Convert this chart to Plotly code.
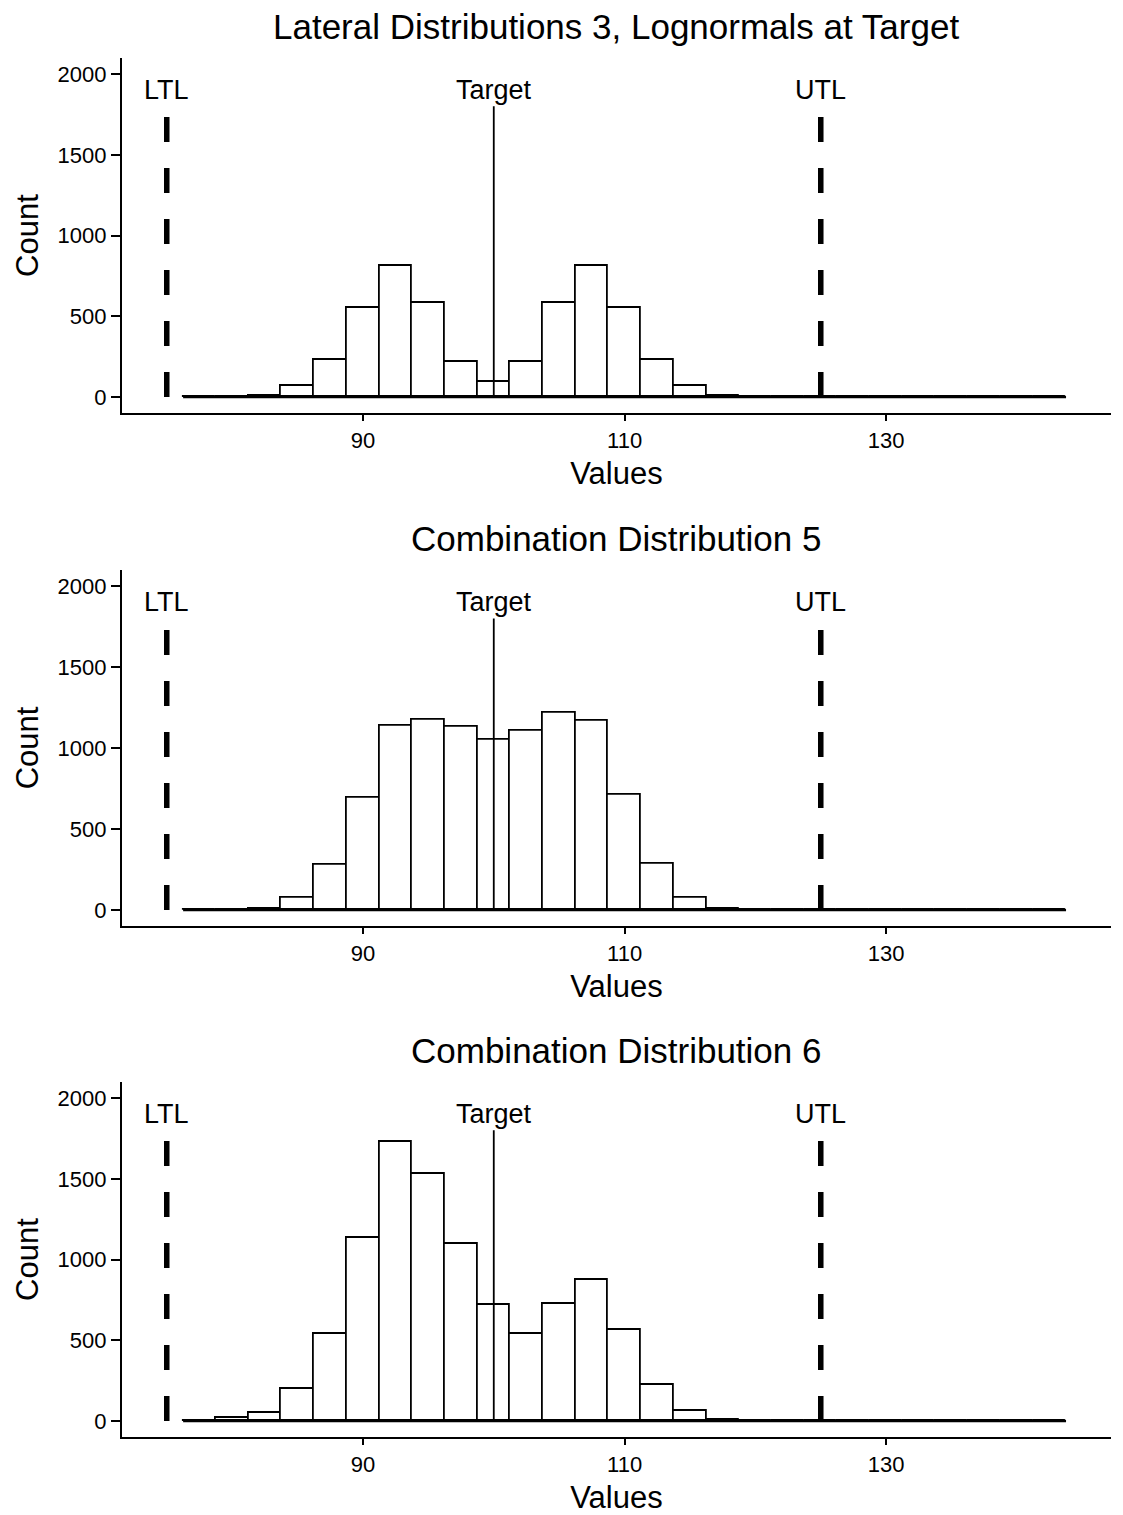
import plotly.graph_objects as go

# ---------------- data ----------------
bin_width = 2.5
bin_centers = [77.5, 80, 82.5, 85, 87.5, 90, 92.5, 95, 97.5, 100, 102.5, 105, 107.5,
               110, 112.5, 115, 117.5, 120, 122.5, 125, 127.5, 130, 132.5, 135,
               137.5, 140, 142.5]

counts_lateral3 = [0, 0, 8, 66, 230, 555, 815, 585, 215, 96, 215, 585, 815,
                   555, 230, 66, 8, 0, 0, 0, 0, 0, 0, 0, 0, 0, 0]
counts_comb5 = [0, 0, 8, 78, 280, 692, 1137, 1172, 1131, 1051, 1107, 1219, 1166,
                710, 287, 78, 8, 0, 0, 0, 0, 0, 0, 0, 0, 0, 0]
counts_comb6 = [3, 18, 50, 197, 537, 1132, 1730, 1533, 1100, 720, 537, 726, 877,
                565, 226, 62, 8, 0, 0, 0, 0, 0, 0, 0, 0, 0, 0]

titles = ["Lateral Distributions 3, Lognormals at Target",
          "Combination Distribution 5",
          "Combination Distribution 6"]

LTL, TARGET, UTL = 75, 100, 125
ref_line_top = 1800
label_y = 1900

x_ticks = [90, 110, 130]
y_ticks = [0, 500, 1000, 1500, 2000]

# ---------------- layout geometry ----------------
W, H = 1123, 1515
x_dom = [121.8 / W, 1111 / W]
panels_px = [(57.9, 413.2), (569.8, 926.2), (1081.9, 1437.2)]  # (top, bottom) in px
y_doms = [[1 - b / H, 1 - t / H] for (t, b) in panels_px]

FONT = "Liberation Sans, Arial, sans-serif"

fig = go.Figure()
series = [counts_lateral3, counts_comb5, counts_comb6]
first_edge = bin_centers[0] - bin_width / 2
last_edge = bin_centers[-1] + bin_width / 2

for i, counts in enumerate(series):
    xa = "x" if i == 0 else f"x{i+1}"
    ya = "y" if i == 0 else f"y{i+1}"
    # zero-level line across all bins (empty bins drawn flat as in ggplot)
    fig.add_trace(go.Scatter(x=[first_edge, last_edge], y=[0, 0], mode="lines",
                             line=dict(color="black", width=2.6),
                             xaxis=xa, yaxis=ya, showlegend=False, hoverinfo="skip"))
    fig.add_trace(go.Bar(x=bin_centers, y=counts, width=[bin_width] * len(bin_centers),
                         marker=dict(color="white", line=dict(color="black", width=1.8)),
                         xaxis=xa, yaxis=ya, showlegend=False))
    # LTL / UTL dashed
    for v in (LTL, UTL):
        fig.add_trace(go.Scatter(x=[v, v], y=[0, ref_line_top], mode="lines",
                                 line=dict(color="black", width=5.5, dash="25px,26px"),
                                 xaxis=xa, yaxis=ya, showlegend=False, hoverinfo="skip"))
    # Target solid
    fig.add_trace(go.Scatter(x=[TARGET, TARGET], y=[0, ref_line_top], mode="lines",
                             line=dict(color="black", width=1.8),
                             xaxis=xa, yaxis=ya, showlegend=False, hoverinfo="skip"))
    for txt, v in (("LTL", LTL), ("Target", TARGET), ("UTL", UTL)):
        fig.add_annotation(x=v, y=label_y, xref=xa, yref=ya, text=txt, showarrow=False,
                           font=dict(family=FONT, size=27, color="black"),
                           xanchor="center", yanchor="middle")
    # panel title
    t_px = panels_px[i][0]
    fig.add_annotation(x=(x_dom[0] + x_dom[1]) / 2, y=1 - (t_px - 31) / H,
                       xref="paper", yref="paper", text=titles[i], showarrow=False,
                       font=dict(family=FONT, size=35, color="black"),
                       xanchor="center", yanchor="middle")

    axis_common = dict(showline=True, linecolor="black", linewidth=1.8, ticks="outside",
                       tickwidth=1.8, tickcolor="black", showgrid=False,
                       zeroline=False, automargin=False,
                       tickfont=dict(family=FONT, size=22, color="black"))
    fig.layout[("xaxis" if i == 0 else f"xaxis{i+1}")] = dict(
        domain=x_dom, anchor=ya, range=[71.5625, 147.1875], tickvals=x_ticks, ticklen=6,
        title=dict(text="Values", font=dict(family=FONT, size=31, color="black"), standoff=11),
        **axis_common)
    fig.layout[("yaxis" if i == 0 else f"yaxis{i+1}")] = dict(
        domain=y_doms[i], anchor=xa, range=[-100, 2100], tickvals=y_ticks, ticklen=9,
        title=dict(text="Count", font=dict(family=FONT, size=31, color="black"), standoff=10),
        **axis_common)

fig.update_layout(width=W, height=H, margin=dict(l=0, r=0, t=0, b=0),
                  plot_bgcolor="white", paper_bgcolor="white", bargap=0,
                  font=dict(family=FONT, color="black"))

fig.write_html("out.html")
